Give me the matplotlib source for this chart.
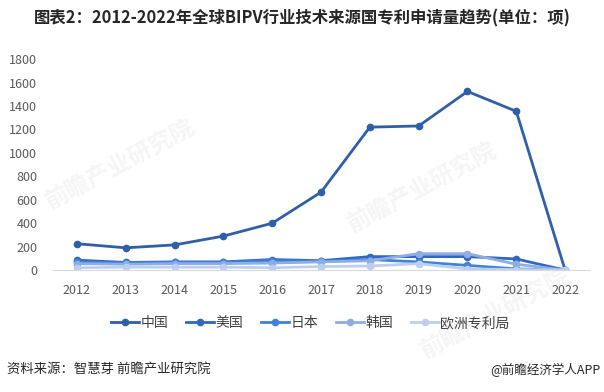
import matplotlib
matplotlib.use("Agg")
import matplotlib.pyplot as plt

plt.rcParams['font.family'] = ['Noto Sans CJK SC', 'DejaVu Sans']

years = ['2012', '2013', '2014', '2015', '2016', '2017', '2018', '2019', '2020', '2021', '2022']
china = [225, 190, 215, 290, 400, 665, 1220, 1230, 1525, 1355, 0]
usa = [85, 65, 70, 70, 90, 80, 115, 115, 115, 95, 0]
japan = [70, 60, 65, 65, 80, 75, 90, 70, 40, 10, 0]
korea = [55, 50, 55, 55, 60, 70, 80, 140, 140, 50, 0]
epo = [20, 25, 25, 25, 20, 30, 35, 55, 10, 5, 0]

series = [
    ("中国", china, "#2f5fa7"),
    ("美国", usa, "#3168bf"),
    ("日本", japan, "#3f82d8"),
    ("韩国", korea, "#8eade6"),
    ("欧洲专利局", epo, "#bccff0"),
]

fig = plt.figure(figsize=(6.04, 3.92), dpi=100)

# faint watermarks (kept behind everything)
for wx, wy in [(0.2, 0.58), (0.7, 0.52), (0.82, 0.2)]:
    fig.text(wx, wy, "前瞻产业研究院", fontsize=17, fontweight='bold', color='#f5f5f5',
             rotation=28, ha='center', va='center', zorder=-5)

ax = fig.add_axes([0.087, 0.311, 0.889, 0.538])
ax.patch.set_alpha(0)

x = range(len(years))
for name, vals, color in series:
    ax.plot(x, vals, color=color, linewidth=2.0, marker='o', markersize=4.5,
            label=name, solid_joinstyle='round')

ax.set_xlim(-0.5, len(years) - 0.5)
ax.set_ylim(0, 1800)
ax.set_yticks(range(0, 1801, 200))
ax.set_xticks(list(x))
ax.set_xticklabels(years)
ax.tick_params(axis='both', length=0, labelsize=9, colors='#595959')
ax.tick_params(axis='x', pad=10)
ax.tick_params(axis='y', pad=11)
for side in ['top', 'right', 'left']:
    ax.spines[side].set_visible(False)
ax.spines['bottom'].set_color('#d9d9d9')

ax.legend(loc='upper center', bbox_to_anchor=(0.48, -0.16), ncol=5, frameon=False,
          fontsize=10, handlelength=2.0, handletextpad=0.1, columnspacing=1.3,
          labelcolor='#404040')

fig.text(0.5, 0.953, "图表2：2012-2022年全球BIPV行业技术来源国专利申请量趋势(单位：项)",
         ha='center', va='center', fontsize=11.8, fontweight='bold', color='#262626')
fig.text(0.012, 0.056, "资料来源：智慧芽 前瞻产业研究院", ha='left', va='center',
         fontsize=9.6, color='#262626')
fig.text(0.995, 0.056, "@前瞻经济学人APP", ha='right', va='center',
         fontsize=9, color='#262626')

fig.savefig("out.png", dpi=100)
